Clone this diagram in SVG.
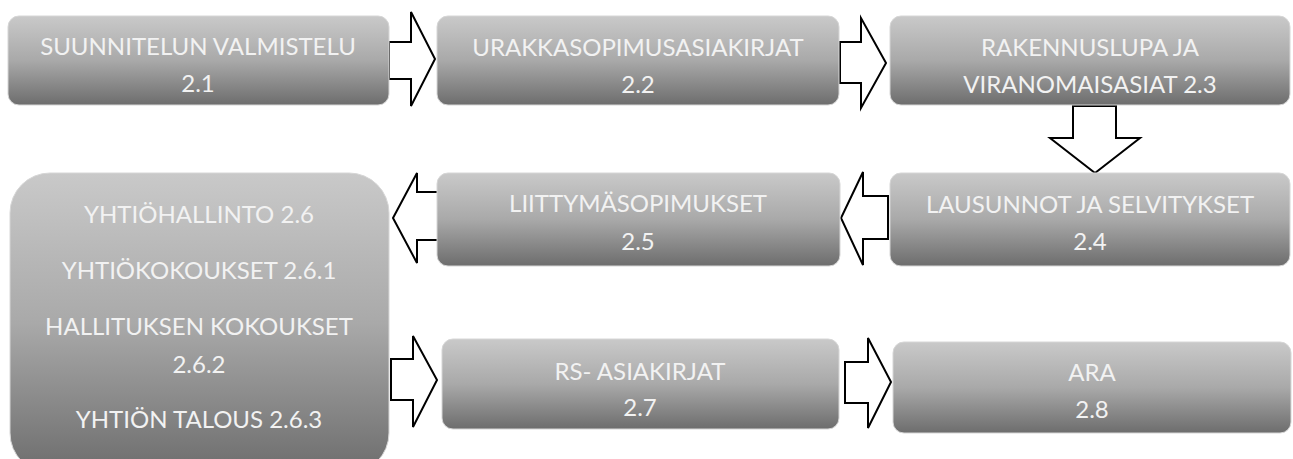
<svg xmlns="http://www.w3.org/2000/svg" width="1293" height="459" viewBox="0 0 1293 459">
  <defs>
    <linearGradient id="boxFill" x1="0" y1="0" x2="0" y2="1">
      <stop offset="0" stop-color="#c9c9c9"/>
      <stop offset="0.5" stop-color="#a9a9a9"/>
      <stop offset="1" stop-color="#6d6d6d"/>
    </linearGradient>
  </defs>
  <style>
    .box { fill: url(#boxFill); stroke: #d6d6d6; stroke-width: 1; }
    .label { font-family: Lato, "Open Sans", "Liberation Sans", sans-serif; font-size: 24px; fill: #f2f2f2; text-anchor: middle; }
    .arrow { fill: #ffffff; stroke: #000000; stroke-width: 2; stroke-linejoin: miter; }
  </style>

  <rect width="1293" height="459" fill="#ffffff"/>

  <!-- flow connectors: hollow block arrows -->
  <g id="connectors">
    <polygon class="arrow" points="389,42 411,42 411,12 435,59 411,106 411,79 389,79"/>
    <polygon class="arrow" points="840,42 861,42 861,18 886,63 861,108 861,83 840,83"/>
    <polygon class="arrow" points="1073,106 1116,106 1116,138 1140,138 1095,173 1050,138 1073,138"/>
    <polygon class="arrow" points="888,196 863,196 863,172 841,218 863,265 863,239 888,239"/>
    <polygon class="arrow" points="439,192 417,192 417,173 393,218 417,263 417,240 439,240"/>
    <polygon class="arrow" points="391,359 413,359 413,336 437,380 413,427 413,400 391,400"/>
    <polygon class="arrow" points="845,362 868,362 868,338 891,382 868,428 868,403 845,403"/>
  </g>

  <g id="node-2-1">
    <rect class="box" x="8" y="16" width="381" height="89" rx="11"/>
    <text class="label" x="198" y="55">SUUNNITELUN VALMISTELU</text>
    <text class="label" x="198" y="92">2.1</text>
  </g>

  <g id="node-2-2">
    <rect class="box" x="437" y="16" width="402" height="89" rx="11"/>
    <text class="label" x="638" y="56">URAKKASOPIMUSASIAKIRJAT</text>
    <text class="label" x="638" y="93">2.2</text>
  </g>

  <g id="node-2-3">
    <rect class="box" x="890" y="16" width="400" height="89" rx="11"/>
    <text class="label" x="1090" y="56">RAKENNUSLUPA JA</text>
    <text class="label" x="1090" y="93">VIRANOMAISASIAT 2.3</text>
  </g>

  <g id="node-2-4">
    <rect class="box" x="890" y="173" width="400" height="93" rx="11"/>
    <text class="label" x="1090" y="213">LAUSUNNOT JA SELVITYKSET</text>
    <text class="label" x="1090" y="250">2.4</text>
  </g>

  <g id="node-2-5">
    <rect class="box" x="437" y="173" width="403" height="93" rx="11"/>
    <text class="label" x="638" y="212">LIITTYMÄSOPIMUKSET</text>
    <text class="label" x="638" y="250">2.5</text>
  </g>

  <g id="node-2-6">
    <rect class="box" x="10" y="173" width="379" height="300" rx="40"/>
    <text class="label" x="199" y="223">YHTIÖHALLINTO 2.6</text>
    <text class="label" x="199" y="279">YHTIÖKOKOUKSET 2.6.1</text>
    <text class="label" x="199" y="335">HALLITUKSEN KOKOUKSET</text>
    <text class="label" x="199" y="373">2.6.2</text>
    <text class="label" x="199" y="428">YHTIÖN TALOUS 2.6.3</text>
  </g>

  <g id="node-2-7">
    <rect class="box" x="442" y="339" width="397" height="90" rx="11"/>
    <text class="label" x="640" y="380">RS- ASIAKIRJAT</text>
    <text class="label" x="640" y="416">2.7</text>
  </g>

  <g id="node-2-8">
    <rect class="box" x="893" y="342" width="398" height="91" rx="11"/>
    <text class="label" x="1092" y="381">ARA</text>
    <text class="label" x="1092" y="418">2.8</text>
  </g>
</svg>
